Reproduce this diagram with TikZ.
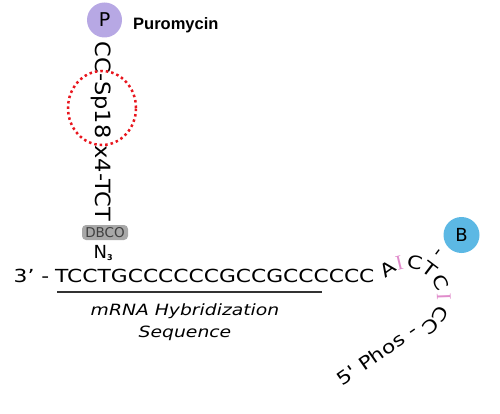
\documentclass[tikz,border=0pt]{standalone}
\usepackage{fontspec}
\newfontfamily\seqfont[FakeStretch=1.21]{DejaVu Sans}
\newfontfamily\linkfont[FakeStretch=1.07]{DejaVu Sans}
\newfontfamily\plainfont{DejaVu Sans}
\newfontfamily\tagfont{Liberation Sans}
\newfontfamily\inofont{Liberation Serif}
\definecolor{lavender}{HTML}{B7A8E4}
\definecolor{skyblue}{HTML}{5CB8E4}
\definecolor{inopink}{HTML}{E08CCB}
\definecolor{dbcogray}{HTML}{A8A8A8}
\definecolor{dotred}{HTML}{E8161E}

\begin{document}
\begin{tikzpicture}[x=1pt,y=1pt,
	seqtext/.style={inner sep=0pt,font=\seqfont\fontsize{18}{18}\selectfont},
	inotext/.style={inner sep=0pt,text=inopink,font=\inofont\fontsize{21}{21}\selectfont},
	bead/.style={circle,minimum size=35pt,inner sep=0pt,font=\plainfont\fontsize{19}{19}\selectfont}]
					\useasboundingbox (0,0) rectangle (500,-414);
					\node[bead,fill=lavender] (puro) at (104.5,-20) {P};
					\node[anchor=base west,inner sep=0pt,font=\tagfont\bfseries\fontsize{16.5}{16.5}\selectfont] (purolabel) at (133,-30) {Puromycin};
					\node[rotate=-90,anchor=base,inner sep=0pt,font=\linkfont\fontsize{21}{21}\selectfont] (linker) at (95.5,-131.5) {CC-Sp18 x4-TCT};
					\draw[dotred,line width=2.5pt,dash pattern=on 2.5pt off 3pt] (102,-108) ellipse [x radius=34pt,y radius=37pt];
					\node[rounded corners=4pt,fill=dbcogray,minimum width=46pt,minimum height=15pt,inner sep=0pt,text=black!75,font=\plainfont\fontsize{13.5}{13.5}\selectfont] (dbco) at (105,-232.5) {DBCO};
					\node[anchor=base west,inner sep=0pt,font=\plainfont\fontsize{18}{18}\selectfont] (azide) at (93.5,-258) {N\raisebox{-2.5pt}{\fontsize{8}{8}\selectfont\bfseries 3}};
					\node[seqtext,anchor=base east] (end3) at (49.5,-282) {3’ -};
					\node[seqtext,anchor=base west] (seq) at (55,-282) {TCCTGCCCCCCGCCGCCCCCC};
					\draw[line width=1.5pt,black!80] (57,-292) -- (322,-292);
					\node[anchor=north,align=center,inner sep=0pt,font=\seqfont\itshape\fontsize{15.5}{22}\selectfont] (hybrid) at (185,-304) {mRNA Hybridization\\Sequence};
					\coordinate (hub) at (408,-298);
					\foreach \ch/\ang/\sty [count=\i] in {A/125/seqtext,I/104/inotext,C/79/seqtext,T/53/seqtext,C/26/seqtext,I/2/inotext,C/-26/seqtext,C/-51/seqtext}
						\node[\sty,rotate=\ang-90] (arc\i) at ([shift={(\ang:36)}]hub) {\ch};
					\node[seqtext,rotate=53] (link) at (440,-254) {-};
					\node[bead,fill=skyblue,minimum size=36pt,font=\plainfont\fontsize{18}{18}\selectfont] (biotin) at (461.5,-235) {B};
					\node[seqtext,rotate=35,anchor=base west] (phos) at (342,-387) {5' Phos -};
				\end{tikzpicture}
\end{document}
